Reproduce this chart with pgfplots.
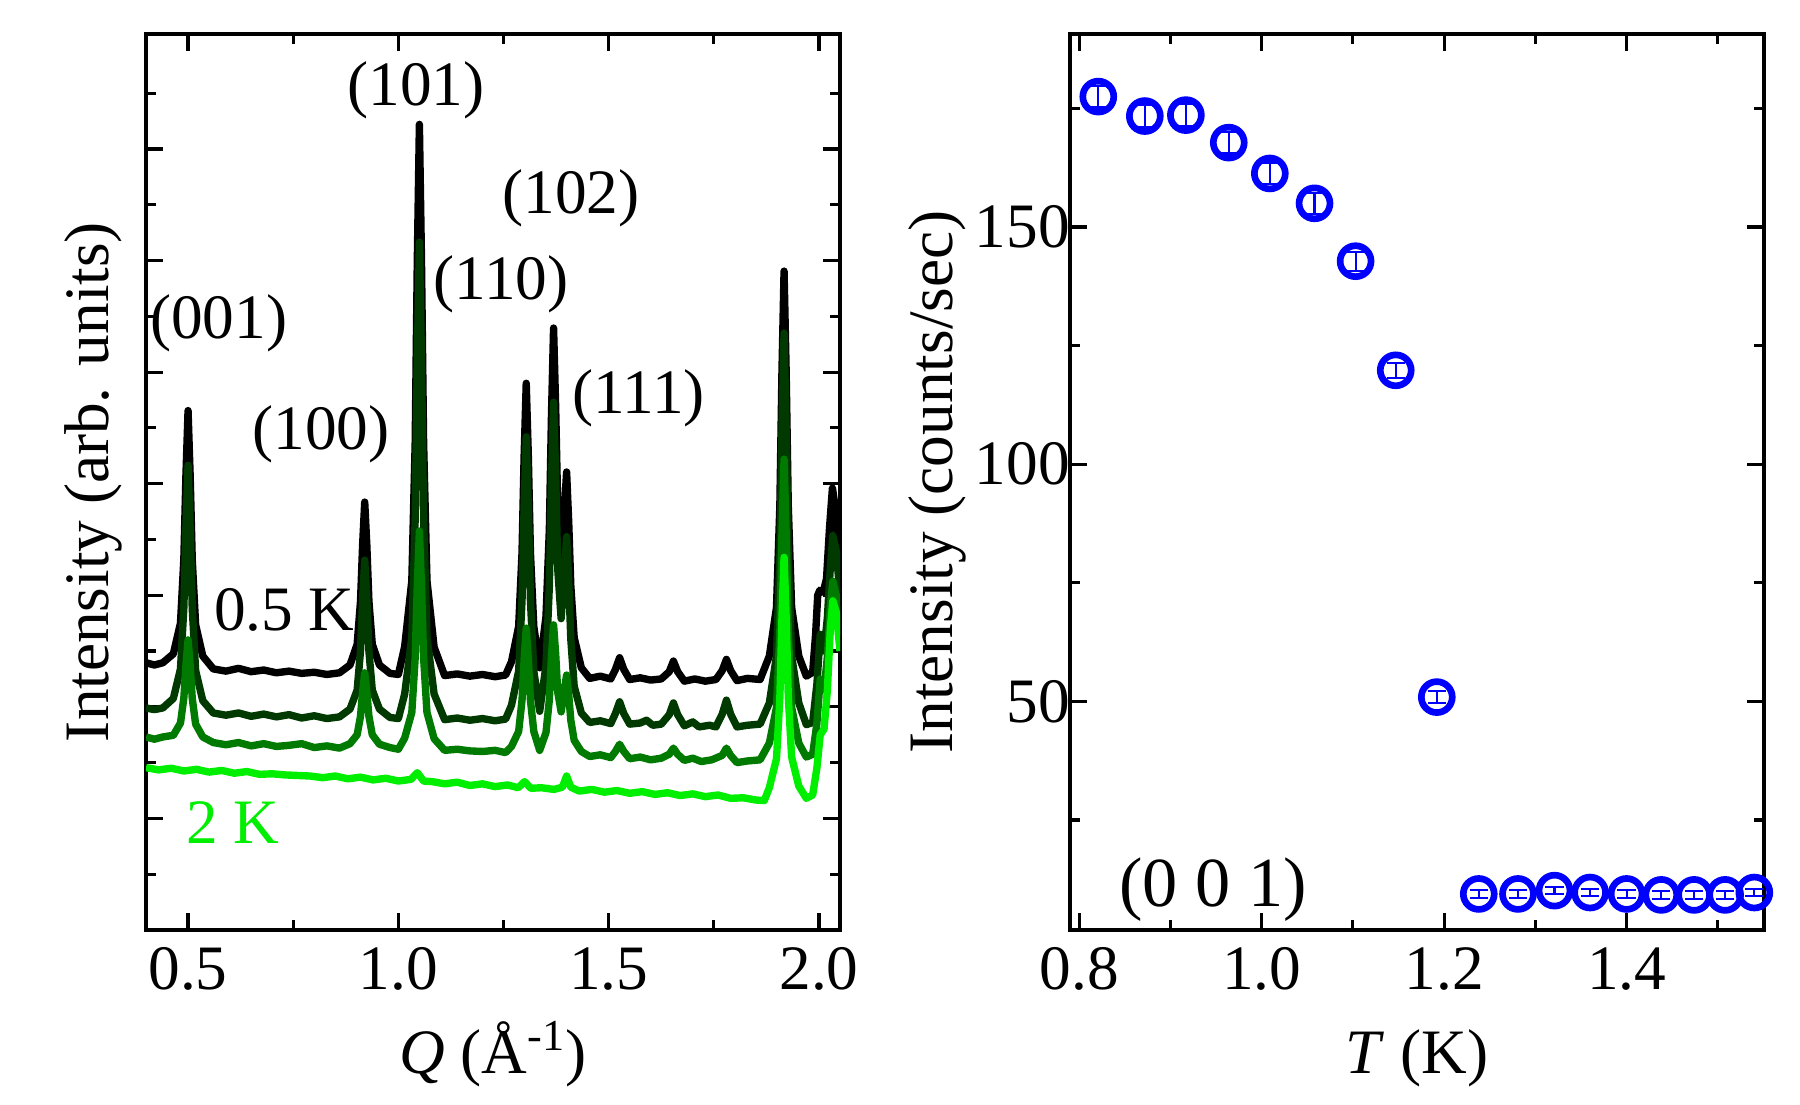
\documentclass[border=0pt]{standalone}
\usepackage{fontspec}
\setmainfont{Liberation Serif}
\usepackage{pgfplots}
\pgfplotsset{compat=1.18}
\definecolor{dkgreen}{RGB}{0,58,0}
\definecolor{mdgreen}{RGB}{0,122,0}
\definecolor{mylime}{RGB}{0,238,0}
\definecolor{myblue}{RGB}{0,0,255}
\begin{document}
\begin{tikzpicture}
\useasboundingbox (0,0) rectangle (18cm,11.05cm);
\pgfplotsset{
  myaxis/.style={
    scale only axis, width=6.94cm, height=8.96cm,
    axis line style={line width=1.1pt},
    every tick/.style={line width=0.9pt, black},
    major tick length=4.8pt, minor tick length=2.8pt,
    tick label style={font=\fontsize{18}{20}\selectfont},
    label style={font=\fontsize{18}{20}\selectfont},
    xticklabel style={yshift=-1.5pt},
  }
}
\begin{axis}[myaxis, at={(1.46cm,1.75cm)}, anchor=south west,
  xmin=0.4, xmax=2.05, ymin=0, ymax=16.06,
  xtick={0.5,1,1.5,2}, xticklabels={0.5,1.0,1.5,2.0}, minor xtick={0.75,1.25,1.75},
  ytick={2,4,6,8,10,12,14}, minor ytick={1,3,5,7,9,11,13,15}, yticklabels={},
  xlabel={\textit{Q} (Å\textsuperscript{-1})},
  ylabel={Intensity (arb. units)},
  xlabel style={at={(axis description cs:0.5,-0.1596)}, anchor=base},
  ylabel style={at={(axis description cs:-0.0764,0.5)}, anchor=center},
]
% 0.5 K (black)
\addplot[black, line width=2.1pt, line join=round] coordinates {
(0.400,4.79)(0.420,4.75)(0.440,4.79)(0.465,4.95)(0.482,5.50)(0.490,6.65)(0.495,8.16)(0.500,9.31)(0.505,8.14)(0.510,6.63)(0.518,5.47)(0.535,4.91)
(0.560,4.68)(0.590,4.64)(0.620,4.69)(0.650,4.63)(0.680,4.66)(0.710,4.61)(0.740,4.64)(0.770,4.60)(0.800,4.62)(0.830,4.58)(0.860,4.61)
(0.885,4.75)(0.902,5.12)(0.910,5.89)(0.915,6.90)(0.920,7.67)(0.925,6.90)(0.930,5.89)(0.938,5.12)(0.955,4.75)(0.980,4.60)(1.000,4.58)
(1.015,5.08)(1.032,6.26)(1.040,8.73)(1.045,11.98)(1.050,14.44)(1.055,11.98)(1.060,8.73)(1.068,6.26)(1.085,5.07)
(1.110,4.56)(1.140,4.59)(1.170,4.55)(1.200,4.58)(1.230,4.54)(1.255,4.57)
(1.269,4.81)(1.286,5.44)(1.294,6.76)(1.299,8.49)(1.304,9.80)(1.309,8.49)(1.314,6.76)(1.322,5.44)(1.336,4.70)
(1.351,5.62)(1.359,7.18)(1.364,9.22)(1.369,10.79)(1.374,9.37)(1.379,7.53)(1.387,6.57)(1.395,7.56)(1.400,8.21)(1.405,7.31)(1.410,6.17)(1.418,5.24)(1.435,4.70)
(1.455,4.51)(1.480,4.55)(1.505,4.50)(1.516,4.67)(1.526,4.88)(1.536,4.67)(1.550,4.49)(1.575,4.52)(1.600,4.48)(1.625,4.50)
(1.644,4.63)(1.654,4.82)(1.664,4.63)(1.680,4.46)(1.705,4.50)(1.730,4.46)(1.755,4.49)(1.770,4.65)(1.780,4.85)(1.790,4.65)(1.805,4.47)(1.830,4.51)(1.860,4.49)
(1.882,4.91)(1.899,5.78)(1.907,7.60)(1.912,10.00)(1.917,11.81)(1.922,10.00)(1.927,7.60)(1.935,5.78)(1.952,4.91)(1.970,4.55)
(1.985,4.62)(1.992,5.30)(1.997,6.00)(2.002,6.09)(2.010,6.05)(2.018,6.30)(2.025,7.20)(2.032,7.92)(2.040,7.50)(2.050,6.40)
};
% dark green
\addplot[dkgreen, line width=2.1pt, line join=round] coordinates {
(0.400,3.98)(0.420,3.95)(0.440,3.98)(0.465,4.15)(0.482,4.68)(0.490,5.78)(0.495,7.23)(0.500,8.33)(0.505,7.21)(0.510,5.76)(0.518,4.65)(0.535,4.11)
(0.560,3.89)(0.590,3.85)(0.620,3.89)(0.650,3.83)(0.680,3.87)(0.710,3.82)(0.740,3.86)(0.770,3.80)(0.800,3.84)(0.830,3.79)(0.860,3.82)
(0.885,3.96)(0.902,4.30)(0.910,5.00)(0.915,5.93)(0.920,6.63)(0.925,5.93)(0.930,5.00)(0.938,4.30)(0.955,3.96)(0.980,3.81)(1.000,3.79)
(1.015,4.23)(1.032,5.25)(1.040,7.38)(1.045,10.20)(1.050,12.33)(1.055,10.20)(1.060,7.38)(1.068,5.25)(1.085,4.23)
(1.110,3.77)(1.140,3.80)(1.170,3.76)(1.200,3.79)(1.230,3.75)(1.255,3.78)
(1.269,4.03)(1.286,4.64)(1.294,5.91)(1.299,7.58)(1.304,8.84)(1.309,7.58)(1.314,5.91)(1.322,4.64)(1.336,3.92)
(1.351,4.74)(1.359,6.17)(1.364,8.04)(1.369,9.46)(1.374,8.16)(1.379,6.46)(1.387,5.58)(1.395,6.48)(1.400,7.05)(1.405,6.25)(1.410,5.21)(1.418,4.37)(1.435,3.89)
(1.455,3.72)(1.480,3.75)(1.505,3.70)(1.516,3.88)(1.526,4.09)(1.536,3.88)(1.550,3.69)(1.575,3.71)(1.590,3.76)(1.605,3.67)(1.625,3.69)
(1.644,3.86)(1.654,4.07)(1.664,3.86)(1.680,3.66)(1.700,3.73)(1.715,3.64)(1.740,3.67)(1.755,3.64)(1.770,3.87)(1.780,4.12)(1.790,3.87)(1.805,3.64)(1.830,3.67)(1.860,3.69)
(1.882,4.07)(1.899,4.91)(1.907,6.65)(1.912,8.96)(1.917,10.70)(1.922,8.96)(1.927,6.65)(1.935,4.91)(1.952,4.07)(1.970,3.68)
(1.985,3.72)(1.995,4.40)(2.003,5.30)(2.012,5.00)(2.020,5.60)(2.027,6.50)(2.033,7.07)(2.041,6.80)(2.050,6.00)
};
% medium green
\addplot[mdgreen, line width=2.1pt, line join=round] coordinates {
(0.400,3.46)(0.420,3.42)(0.440,3.46)(0.465,3.49)(0.482,3.71)(0.490,4.16)(0.495,4.75)(0.500,5.20)(0.505,4.74)(0.510,4.15)(0.518,3.69)(0.535,3.46)
(0.560,3.36)(0.590,3.32)(0.620,3.36)(0.650,3.30)(0.680,3.34)(0.710,3.29)(0.740,3.31)(0.770,3.34)(0.800,3.27)(0.830,3.30)(0.860,3.26)
(0.885,3.34)(0.902,3.50)(0.910,3.83)(0.915,4.27)(0.920,4.61)(0.925,4.27)(0.930,3.83)(0.938,3.50)(0.955,3.33)(0.980,3.27)(1.000,3.24)
(1.015,3.44)(1.032,3.90)(1.040,4.88)(1.045,6.17)(1.050,7.15)(1.055,6.17)(1.060,4.88)(1.068,3.90)(1.085,3.43)
(1.110,3.22)(1.140,3.24)(1.170,3.21)(1.200,3.20)(1.230,3.22)(1.255,3.18)
(1.269,3.29)(1.286,3.56)(1.294,4.12)(1.299,4.85)(1.304,5.41)(1.309,4.85)(1.314,4.12)(1.322,3.56)(1.336,3.22)
(1.351,3.54)(1.359,4.13)(1.364,4.90)(1.369,5.47)(1.374,4.95)(1.379,4.26)(1.387,3.91)(1.395,4.32)(1.400,4.57)(1.405,4.22)(1.410,3.76)(1.418,3.40)(1.435,3.20)
(1.455,3.11)(1.480,3.14)(1.505,3.09)(1.516,3.20)(1.526,3.33)(1.536,3.20)(1.550,3.07)(1.575,3.10)(1.600,3.05)(1.625,3.08)
(1.644,3.15)(1.654,3.26)(1.664,3.15)(1.680,3.04)(1.700,3.08)(1.720,3.02)(1.745,3.05)(1.770,3.13)(1.780,3.26)(1.790,3.13)(1.805,3.00)(1.830,3.03)(1.860,3.05)
(1.882,3.35)(1.899,3.99)(1.907,5.33)(1.912,7.10)(1.917,8.44)(1.922,7.10)(1.927,5.33)(1.935,3.99)(1.952,3.35)(1.970,3.10)
(1.985,3.15)(1.995,3.70)(2.003,4.50)(2.012,4.30)(2.020,4.90)(2.027,5.80)(2.033,6.25)(2.041,6.00)(2.050,5.30)
};
% 2 K (lime)
\addplot[mylime, line width=2.1pt, line join=round] coordinates {
(0.400,2.91)(0.430,2.87)(0.460,2.90)(0.490,2.85)(0.520,2.88)(0.550,2.83)(0.580,2.86)(0.610,2.81)(0.640,2.84)(0.670,2.79)(0.700,2.80)
(0.730,2.78)(0.760,2.77)(0.790,2.76)(0.820,2.73)(0.850,2.76)(0.880,2.71)(0.910,2.74)(0.940,2.69)(0.970,2.72)(1.000,2.67)(1.030,2.70)
(1.045,2.82)(1.060,2.67)(1.080,2.66)(1.110,2.62)(1.140,2.65)(1.170,2.59)(1.200,2.62)(1.230,2.57)(1.260,2.60)(1.285,2.55)(1.300,2.66)
(1.315,2.54)(1.340,2.55)(1.370,2.52)(1.390,2.56)(1.400,2.76)(1.410,2.56)(1.430,2.49)(1.460,2.52)(1.490,2.47)(1.520,2.50)(1.550,2.45)
(1.580,2.48)(1.610,2.43)(1.640,2.46)(1.670,2.41)(1.700,2.44)(1.730,2.39)(1.760,2.42)(1.790,2.36)(1.820,2.37)(1.850,2.33)(1.870,2.32)
(1.882,2.55)(1.899,3.07)(1.907,4.16)(1.912,5.59)(1.917,6.68)(1.922,5.60)(1.927,4.19)(1.935,3.10)(1.952,2.58)(1.970,2.36)
(1.985,2.42)(1.995,2.90)(2.003,3.50)(2.012,3.60)(2.020,4.30)(2.027,5.40)(2.033,5.90)(2.041,5.70)(2.050,5.00)
};
\node[font=\fontsize{18}{20}\selectfont] at (axis cs:0.573,10.88) {(001)};
\node[font=\fontsize{18}{20}\selectfont] at (axis cs:0.816,8.89) {(100)};
\node[font=\fontsize{18}{20}\selectfont] at (axis cs:1.042,15.06) {(101)};
\node[font=\fontsize{18}{20}\selectfont] at (axis cs:1.244,11.58) {(110)};
\node[font=\fontsize{18}{20}\selectfont] at (axis cs:1.410,13.11) {(102)};
\node[font=\fontsize{18}{20}\selectfont] at (axis cs:1.571,9.53) {(111)};
\node[font=\fontsize{18}{20}\selectfont] at (axis cs:0.729,5.74) {0.5 K};
\node[font=\fontsize{18}{20}\selectfont, text=mylime] at (axis cs:0.606,1.92) {2 K};
\end{axis}

\begin{axis}[myaxis, at={(10.70cm,1.75cm)}, anchor=south west,
  xmin=0.79, xmax=1.5506, ymin=1.8, ymax=190.7,
  xtick={0.8,1.0,1.2,1.4}, xticklabels={0.8,1.0,1.2,1.4}, minor xtick={0.9,1.1,1.3,1.5},
  ytick={50,100,150}, yticklabels={50,100,150}, minor ytick={25,75,125,175},
  yticklabel style={xshift=3.5pt},
  xlabel={\textit{T} (K)},
  ylabel={Intensity (counts/sec)},
  xlabel style={at={(axis description cs:0.5,-0.1596)}, anchor=base},
  ylabel style={at={(axis description cs:-0.1916,0.5)}, anchor=center},
]
\addplot[only marks, mark=o, mark size=4.4pt, myblue, line width=1.9pt,
  error bars/.cd, y dir=both, y explicit,
  error bar style={line width=0.6pt, myblue},
  error mark options={rotate=90, mark size=2.6pt, line width=0.6pt, myblue}]
coordinates {
(0.821,177.5) +- (0,2.3)
(0.872,173.4) +- (0,2.3)
(0.917,173.6) +- (0,2.3)
(0.964,167.8) +- (0,2.3)
(1.009,161.3) +- (0,2.3)
(1.058,155.0) +- (0,2.2)
(1.103,142.8) +- (0,2.0)
(1.147,119.8) +- (0,1.6)
(1.192,50.9) +- (0,1.3)
(1.238,9.4) +- (0,0.8)
(1.281,9.4) +- (0,0.8)
(1.321,10.1) +- (0,0.8)
(1.360,9.7) +- (0,0.8)
(1.400,9.4) +- (0,0.8)
(1.438,9.2) +- (0,0.8)
(1.474,9.2) +- (0,0.8)
(1.508,9.2) +- (0,0.8)
(1.540,9.7) +- (0,0.8)
};
\node[font=\fontsize{20}{22}\selectfont] at (axis cs:0.947,10.4) {(0 0 1)};
\end{axis}
\end{tikzpicture}
\end{document}
